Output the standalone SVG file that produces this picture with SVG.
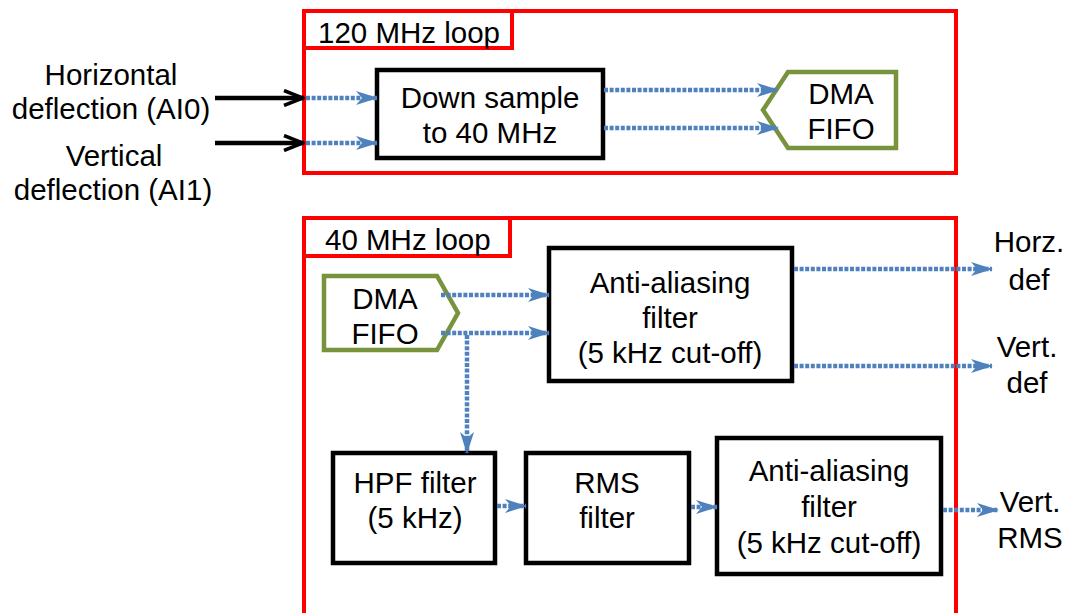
<svg xmlns="http://www.w3.org/2000/svg" width="1073" height="613" viewBox="0 0 1073 613">
<defs>
<marker id="ba" viewBox="0 0 22 14" refX="21" refY="7" markerWidth="22" markerHeight="14" markerUnits="userSpaceOnUse" orient="auto">
<path d="M0,0 L22,7 L0,14 L6,7 z" fill="#4F81BD"/>
</marker>
<marker id="ka" viewBox="0 0 22 18" refX="21" refY="9" markerWidth="22" markerHeight="18" markerUnits="userSpaceOnUse" orient="auto">
<path d="M1,1.5 L20,9 L1,16.5" fill="none" stroke="#000" stroke-width="3.5"/>
</marker>
</defs>
<style>
text{font-family:"Liberation Sans",Arial,sans-serif;font-size:29.5px;fill:#000}
.c{text-anchor:middle}
.frame{fill:none;stroke:#FF0000;stroke-width:4}
.tab{fill:#fff;stroke:#FF0000;stroke-width:4}
.box{fill:#fff;stroke:#000;stroke-width:4.5}
.fifo{fill:#fff;stroke:#77933C;stroke-width:4.5}
.d{fill:none;stroke:#4F81BD;stroke-width:4.5;stroke-dasharray:4 1.6;marker-end:url(#ba)}
.k{fill:none;stroke:#000;stroke-width:4.5;marker-end:url(#ka)}
</style>
<rect width="1073" height="613" fill="#fff"/>
<g id="loop120">
<rect class="frame" x="304" y="11" width="652" height="162"/>
<rect class="tab" x="304" y="11" width="208" height="37"/>
<text x="318" y="43">120 MHz loop</text>
</g>
<g id="loop40">
<rect class="frame" x="304" y="218" width="652" height="420"/>
<rect class="tab" x="304" y="218" width="206" height="38"/>
<text x="325" y="250">40 MHz loop</text>
</g>
<g id="inputs">
<text class="c" x="111" y="85">Horizontal</text>
<text class="c" x="111" y="119">deflection (AI0)</text>
<text class="c" x="114" y="166">Vertical</text>
<text class="c" x="113" y="200">deflection (AI1)</text>
</g>
<g id="downsample">
<rect class="box" x="377" y="70" width="226" height="88"/>
<text class="c" x="490" y="108">Down sample</text>
<text class="c" x="490" y="143">to 40 MHz</text>
</g>
<g id="fifo1">
<polygon class="fifo" points="788,72 896,72 896,148 788,148 763,110"/>
<text class="c" x="841" y="104">DMA</text>
<text class="c" x="841" y="139">FIFO</text>
</g>
<g id="fifo2">
<polygon class="fifo" points="324,276 437,276 458,313 437,350 324,350"/>
<text class="c" x="385" y="309">DMA</text>
<text class="c" x="385" y="344">FIFO</text>
</g>
<g id="aa1">
<rect class="box" x="549" y="248" width="243" height="133"/>
<text class="c" x="670" y="293">Anti-aliasing</text>
<text class="c" x="670" y="328">filter</text>
<text class="c" x="670" y="363">(5 kHz cut-off)</text>
</g>
<g id="hpf">
<rect class="box" x="333" y="453" width="162" height="110"/>
<text class="c" x="415" y="493">HPF filter</text>
<text class="c" x="415" y="528">(5 kHz)</text>
</g>
<g id="rms">
<rect class="box" x="526" y="453" width="163" height="110"/>
<text class="c" x="607" y="493">RMS</text>
<text class="c" x="607" y="528">filter</text>
</g>
<g id="aa2">
<rect class="box" x="717" y="438" width="224" height="136"/>
<text class="c" x="829" y="481">Anti-aliasing</text>
<text class="c" x="829" y="517">filter</text>
<text class="c" x="829" y="553">(5 kHz cut-off)</text>
</g>
<g id="outputs">
<text class="c" x="1029" y="252">Horz.</text>
<text class="c" x="1029" y="290">def</text>
<text class="c" x="1027" y="357">Vert.</text>
<text class="c" x="1027" y="393">def</text>
<text class="c" x="1030" y="512">Vert.</text>
<text class="c" x="1030" y="548">RMS</text>
</g>
<g id="connectors">
<line class="k" x1="215" y1="98" x2="304" y2="98"/>
<line class="k" x1="215" y1="143" x2="304" y2="143"/>
<line class="d" x1="306" y1="98" x2="377" y2="98"/>
<line class="d" x1="306" y1="143" x2="377" y2="143"/>
<line class="d" x1="604" y1="90" x2="778" y2="90"/>
<line class="d" x1="604" y1="128" x2="778" y2="128"/>
<line class="d" x1="441" y1="295" x2="549" y2="295"/>
<line class="d" x1="441" y1="333" x2="549" y2="333"/>
<line class="d" x1="467" y1="335" x2="467" y2="453"/>
<line class="d" x1="794" y1="269" x2="992" y2="269"/>
<line class="d" x1="794" y1="366" x2="992" y2="366"/>
<line class="d" x1="497" y1="506" x2="526" y2="506"/>
<line class="d" x1="691" y1="507" x2="717" y2="507"/>
<line class="d" x1="943" y1="510" x2="998" y2="510"/>
</g>
</svg>
